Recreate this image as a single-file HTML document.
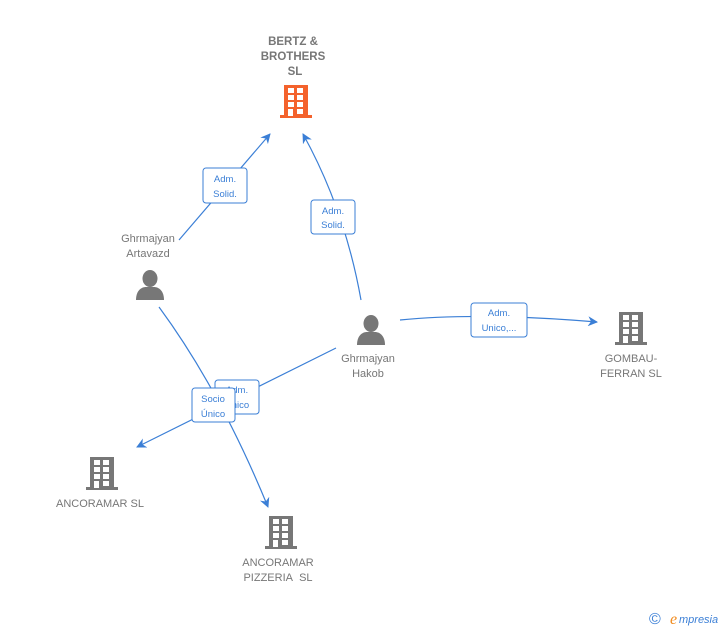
<!DOCTYPE html>
<html><head><meta charset="utf-8"><style>
html,body{margin:0;padding:0;background:#fff;width:728px;height:630px;overflow:hidden}
svg{display:block}
text{font-family:"Liberation Sans",Arial,sans-serif}
.n{fill:#777;font-size:11px;text-anchor:middle}
.b{fill:#777;font-size:11.5px;text-anchor:middle;font-weight:bold}
.l{fill:#3b7fd6;font-size:9.5px;text-anchor:middle}
.bx{fill:#fff;stroke:#3b7fd6;stroke-width:1}
.e{fill:none;stroke:#3b7fd6;stroke-width:1.2}
</style></head><body>
<svg width="728" height="630" viewBox="0 0 728 630" xmlns="http://www.w3.org/2000/svg">
<defs>
<g id="bld">
<rect x="4" y="0" width="24" height="31"/>
<rect x="0" y="30" width="32" height="3"/>
<g fill="#fff">
<rect x="8" y="3" width="6" height="5"/><rect x="17" y="3" width="6" height="5"/>
<rect x="8" y="10" width="6" height="5"/><rect x="17" y="10" width="6" height="5"/>
<rect x="8" y="17" width="6" height="5"/><rect x="17" y="17" width="6" height="5"/>
<rect x="8" y="24" width="5" height="7"/><rect x="17" y="24" width="6" height="5"/>
</g>
</g>
<g id="per">
<ellipse cx="14" cy="8.5" rx="7.5" ry="8.5"/>
<path d="M0 30 C0 21 5 17 10 17 L18 17 C23 17 28 21 28 30 Z"/>
</g>
<marker id="ar" markerWidth="10" markerHeight="10" refX="9" refY="5" orient="auto" markerUnits="userSpaceOnUse">
<path d="M0 0 L10 5 L0 10 L3 5 Z" fill="#3b7fd6"/>
</marker>
</defs>

<path class="e" d="M179 240 L270 134" marker-end="url(#ar)"/>
<path class="e" d="M361 300 Q345 210 303 134" marker-end="url(#ar)"/>
<path class="e" d="M400 320 Q480 312 597 322" marker-end="url(#ar)"/>
<path class="e" d="M336 348 L137 447" marker-end="url(#ar)"/>
<path class="e" d="M159 307 Q220 390 268 507" marker-end="url(#ar)"/>

<rect class="bx" x="203" y="168" width="44" height="35" rx="3"/>
<text class="l" x="225" y="182">Adm.</text><text class="l" x="225" y="197">Solid.</text>
<rect class="bx" x="311" y="200" width="44" height="34" rx="3"/>
<text class="l" x="333" y="214">Adm.</text><text class="l" x="333" y="228">Solid.</text>
<rect class="bx" x="471" y="303" width="56" height="34" rx="3"/>
<text class="l" x="499" y="316">Adm.</text><text class="l" x="499" y="331">Unico,...</text>
<rect class="bx" x="215" y="380" width="44" height="34" rx="3"/>
<text class="l" x="237" y="393">Adm.</text><text class="l" x="237" y="408">Unico</text>
<rect class="bx" x="192" y="388" width="43" height="34" rx="3"/>
<text class="l" x="213" y="402">Socio</text><text class="l" x="213" y="417">Único</text>

<text class="b" x="293" y="45">BERTZ &amp;</text>
<text class="b" x="293" y="60">BROTHERS</text>
<text class="b" x="295" y="75">SL</text>
<use href="#bld" x="280" y="85" fill="#f4622c"/>

<text class="n" x="148" y="242">Ghrmajyan</text>
<text class="n" x="148" y="257">Artavazd</text>
<use href="#per" x="136" y="270" fill="#777"/>

<use href="#per" x="357" y="315" fill="#777"/>
<text class="n" x="368" y="362">Ghrmajyan</text>
<text class="n" x="368" y="377">Hakob</text>

<use href="#bld" x="615" y="312" fill="#777"/>
<text class="n" x="631" y="362">GOMBAU-</text>
<text class="n" x="631" y="377">FERRAN SL</text>

<use href="#bld" x="86" y="457" fill="#777"/>
<text class="n" x="100" y="507">ANCORAMAR SL</text>

<use href="#bld" x="265" y="516" fill="#777"/>
<text class="n" x="278" y="566">ANCORAMAR</text>
<text class="n" x="278" y="581">PIZZERIA&#160; SL</text>

<text x="649" y="624" style="font-size:16px;fill:#3b7fd6">©</text>
<text x="670" y="624" style="font-size:16px;fill:#f08a1c;font-style:italic;font-family:'Liberation Serif',serif">e</text>
<text x="679" y="623" style="font-size:11px;fill:#3b7fd6;font-style:italic">mpresia</text>
</svg>
</body></html>
